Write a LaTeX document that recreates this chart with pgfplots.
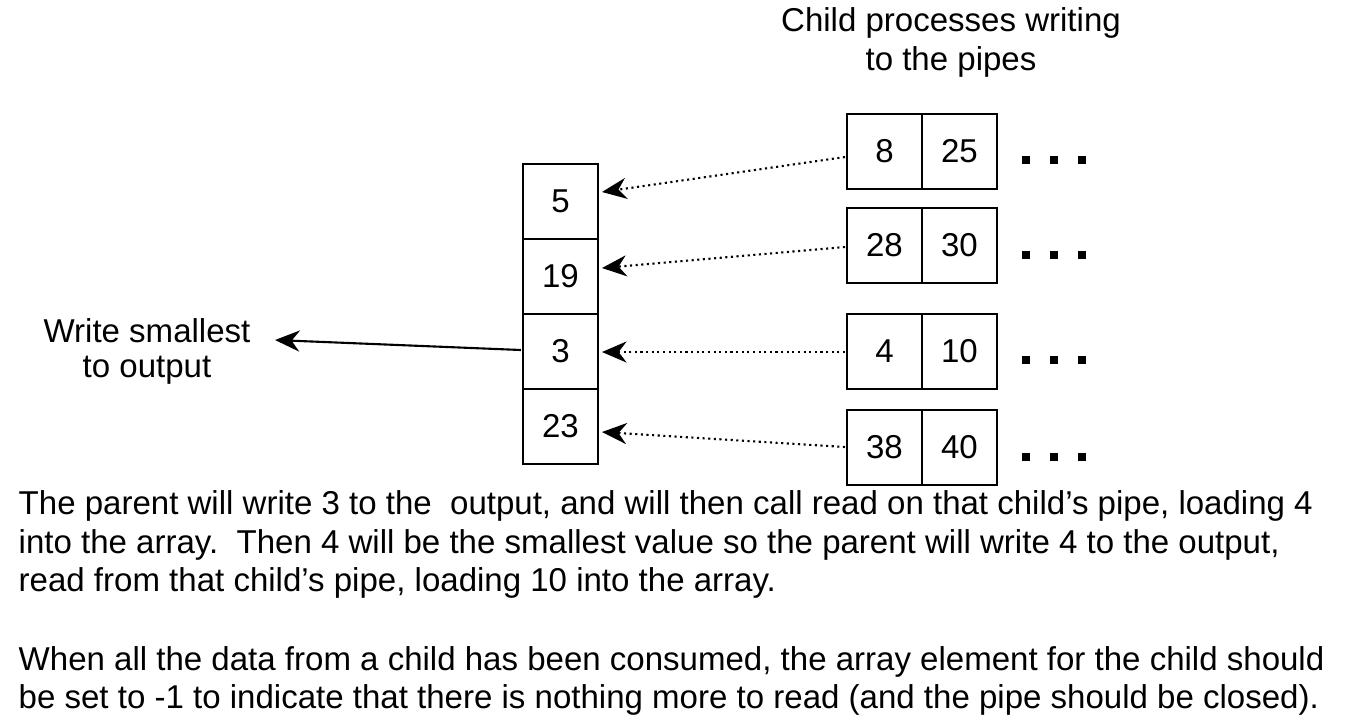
\documentclass[border=0pt]{standalone}
\usepackage{pgfplots}
\pgfplotsset{compat=1.18}
\usepackage{fontspec}
\setmainfont{Liberation Sans}
\usetikzlibrary{arrows.meta}
\begin{document}
\begin{tikzpicture}
\begin{axis}[scale only axis, width=13.64cm, height=7.23cm, xmin=0, xmax=1364, ymin=0, ymax=723, y dir=reverse, axis lines=none, clip=false,
  nodes={font=\fontsize{9.4}{11}\selectfont, inner sep=0pt}]
\path[use as bounding box] (axis cs:0,0) rectangle (axis cs:1364,723);
% left column
\foreach \y/\v in {164/5,239/19,314/3,389/23}{
  \edef\tmp{\noexpand\draw[line width=0.5pt] (axis cs:523,\y) rectangle (axis cs:598,\y+75);
  \noexpand\node at (axis cs:560.5,\y+37.5) {\v};}\tmp}
% right pairs
\foreach \y/\a/\b in {114/8/25,208/28/30,314/4/10,410/38/40}{
  \edef\tmp{\noexpand\draw[line width=0.5pt] (axis cs:847,\y) rectangle (axis cs:922,\y+75);
  \noexpand\draw[line width=0.5pt] (axis cs:922,\y) rectangle (axis cs:997,\y+75);
  \noexpand\node at (axis cs:884.5,\y+37.5) {\a};
  \noexpand\node at (axis cs:959.5,\y+37.5) {\b};}\tmp}
% dots
\foreach \y in {160,255,360,457}{
  \foreach \x in {1026,1054,1082}{
    \edef\tmp{\noexpand\fill (axis cs:\x-4,\y-4) rectangle (axis cs:\x+4,\y+4);}\tmp}}
% dotted arrows
\draw[densely dotted, line width=0.6pt, -{Stealth[length=7pt,width=6pt]}] (axis cs:845,157) -- (axis cs:602,192);
\draw[densely dotted, line width=0.6pt, -{Stealth[length=7pt,width=6pt]}] (axis cs:845,247) -- (axis cs:602,268);
\draw[densely dotted, line width=0.6pt, -{Stealth[length=7pt,width=6pt]}] (axis cs:845,352) -- (axis cs:602,352);
\draw[densely dotted, line width=0.6pt, -{Stealth[length=7pt,width=6pt]}] (axis cs:845,447) -- (axis cs:602,432);
\draw[line width=0.6pt, -{Stealth[length=7pt,width=6pt]}] (axis cs:521,350) -- (axis cs:275,340);
% texts
\node at (axis cs:147,331) {Write smallest};
\node at (axis cs:147,370) {to output};
\node at (axis cs:951,23) {Child processes writing};
\node at (axis cs:951,62) {to the pipes};
\node[anchor=west] at (axis cs:18,506) {The parent will write 3 to the\ \ output, and will then call read on that child's pipe, loading 4};
\node[anchor=west] at (axis cs:18,545) {into the array.\ \ Then 4 will be the smallest value so the parent will write 4 to the output,};
\node[anchor=west] at (axis cs:18,583) {read from that child's pipe, loading 10 into the array.};
\node[anchor=west] at (axis cs:18,662) {When all the data from a child has been consumed, the array element for the child should};
\node[anchor=west] at (axis cs:18,700) {be set to -1 to indicate that there is nothing more to read (and the pipe should be closed).};
\end{axis}
\end{tikzpicture}
\end{document}
